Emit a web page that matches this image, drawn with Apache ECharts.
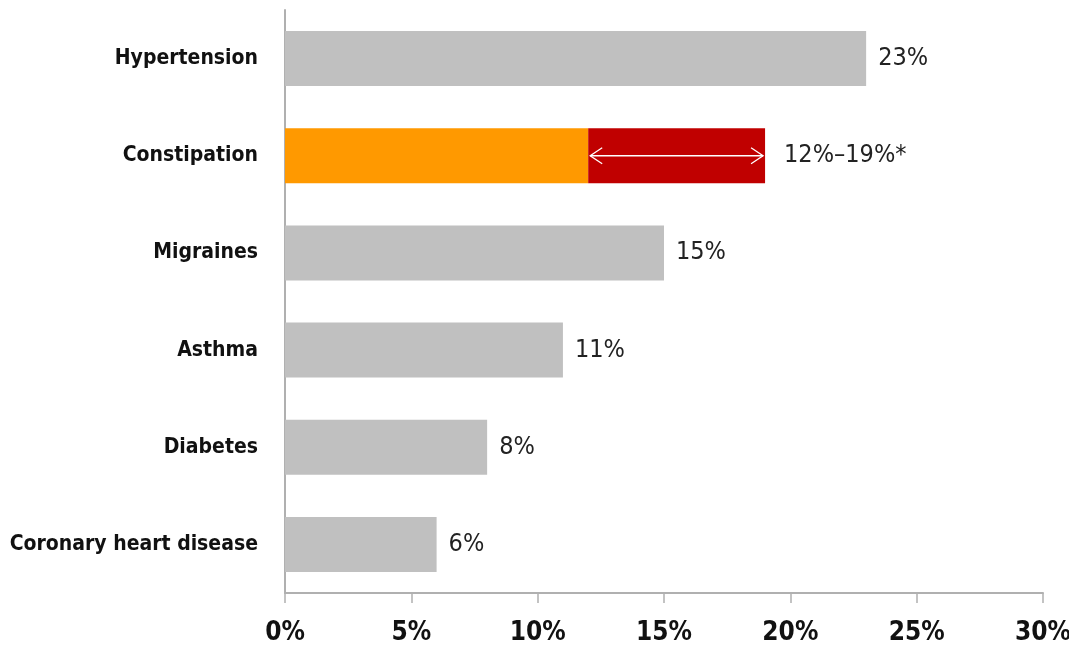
<!DOCTYPE html>
<html>
<head>
<meta charset="utf-8">
<script src="https://cdn.jsdelivr.net/npm/echarts@6/dist/echarts.min.js"></script>
<style>
  html, body { margin: 0; padding: 0; background: #fff; }
  #chart { width: 1069px; height: 647px; }
</style>
</head>
<body>
<div id="chart"></div>
<script>
// Conditions, top to bottom
const categories = ['Hypertension', 'Constipation', 'Migraines', 'Asthma', 'Diabetes', 'Coronary heart disease'];
// Prevalence (%) of the comparison conditions; Constipation is drawn as a range
const prevalence = [23, null, 15, 11, 8, 6];
// Constipation prevalence range (%)
const rangeLow = 12;
const rangeHigh = 19;
const rangeLabel = '12%–19%*';
const xTicks = [0, 5, 10, 15, 20, 25, 30];

const narrow = '"Liberation Sans Narrow", "Arial Narrow", "DejaVu Sans Condensed", sans-serif';

const lowData = categories.map(c => c === 'Constipation' ? rangeLow : null);
const spanData = categories.map(c => c === 'Constipation' ? rangeHigh - rangeLow : null);

const chart = echarts.init(document.getElementById('chart'));
chart.setOption({
  animation: false,
  grid: { left: 285, right: 26, top: 10, bottom: 54, containLabel: false, outerBoundsMode: 'none' },
  xAxis: {
    type: 'value',
    min: xTicks[0],
    max: xTicks[xTicks.length - 1],
    interval: 5,
    splitLine: { show: false },
    axisLine: { show: true, lineStyle: { color: '#b0b0b0', width: 2 } },
    axisTick: { show: true, length: 10, lineStyle: { color: '#b0b0b0', width: 1.5 } },
    axisLabel: {
      margin: 27,
      formatter: v => v + '%',
      color: '#111',
      fontFamily: narrow,
      fontWeight: 'bold',
      fontSize: 26
    }
  },
  yAxis: {
    type: 'category',
    data: categories,
    inverse: true,
    axisLine: { show: true, lineStyle: { color: '#b0b0b0', width: 2 } },
    axisTick: { show: false },
    axisLabel: {
      margin: 27,
      color: '#111',
      fontFamily: narrow,
      fontWeight: 'bold',
      fontSize: 21
    }
  },
  series: [
    {
      name: 'Prevalence',
      type: 'bar',
      stack: 'p',
      data: prevalence,
      barWidth: 55,
      itemStyle: { color: '#c0c0c0' },
      label: {
        show: true,
        position: 'right',
        distance: 12,
        formatter: p => p.value + '%',
        color: '#222',
        fontFamily: narrow,
        fontSize: 25
      }
    },
    {
      name: 'Range low',
      type: 'bar',
      stack: 'p',
      data: lowData,
      barWidth: 55,
      itemStyle: { color: '#ff9900' }
    },
    {
      name: 'Range span',
      type: 'bar',
      stack: 'p',
      data: spanData,
      barWidth: 55,
      itemStyle: { color: '#c00000' },
      label: {
        show: true,
        position: 'right',
        distance: 19,
        formatter: () => rangeLabel,
        color: '#222',
        fontFamily: narrow,
        fontSize: 25
      }
    },
    {
      // double-headed arrow spanning the constipation range
      name: 'Range arrow',
      type: 'custom',
      data: [[rangeLow, rangeHigh, 'Constipation']],
      encode: { x: [0, 1], y: 2 },
      z: 10,
      renderItem: function (params, api) {
        const a = api.coord([api.value(0), api.value(2)]);
        const b = api.coord([api.value(1), api.value(2)]);
        const x1 = a[0] + 2, x2 = b[0] - 2, y = a[1];
        const h = 8, w = 12;
        const style = { stroke: '#ffffff', lineWidth: 1.3, fill: null };
        return {
          type: 'group',
          children: [
            { type: 'line', shape: { x1: x1, y1: y, x2: x2, y2: y }, style: style },
            { type: 'polyline', shape: { points: [[x1 + w, y - h], [x1, y], [x1 + w, y + h]] }, style: style },
            { type: 'polyline', shape: { points: [[x2 - w, y - h], [x2, y], [x2 - w, y + h]] }, style: style }
          ]
        };
      }
    }
  ]
});
</script>
</body>
</html>
